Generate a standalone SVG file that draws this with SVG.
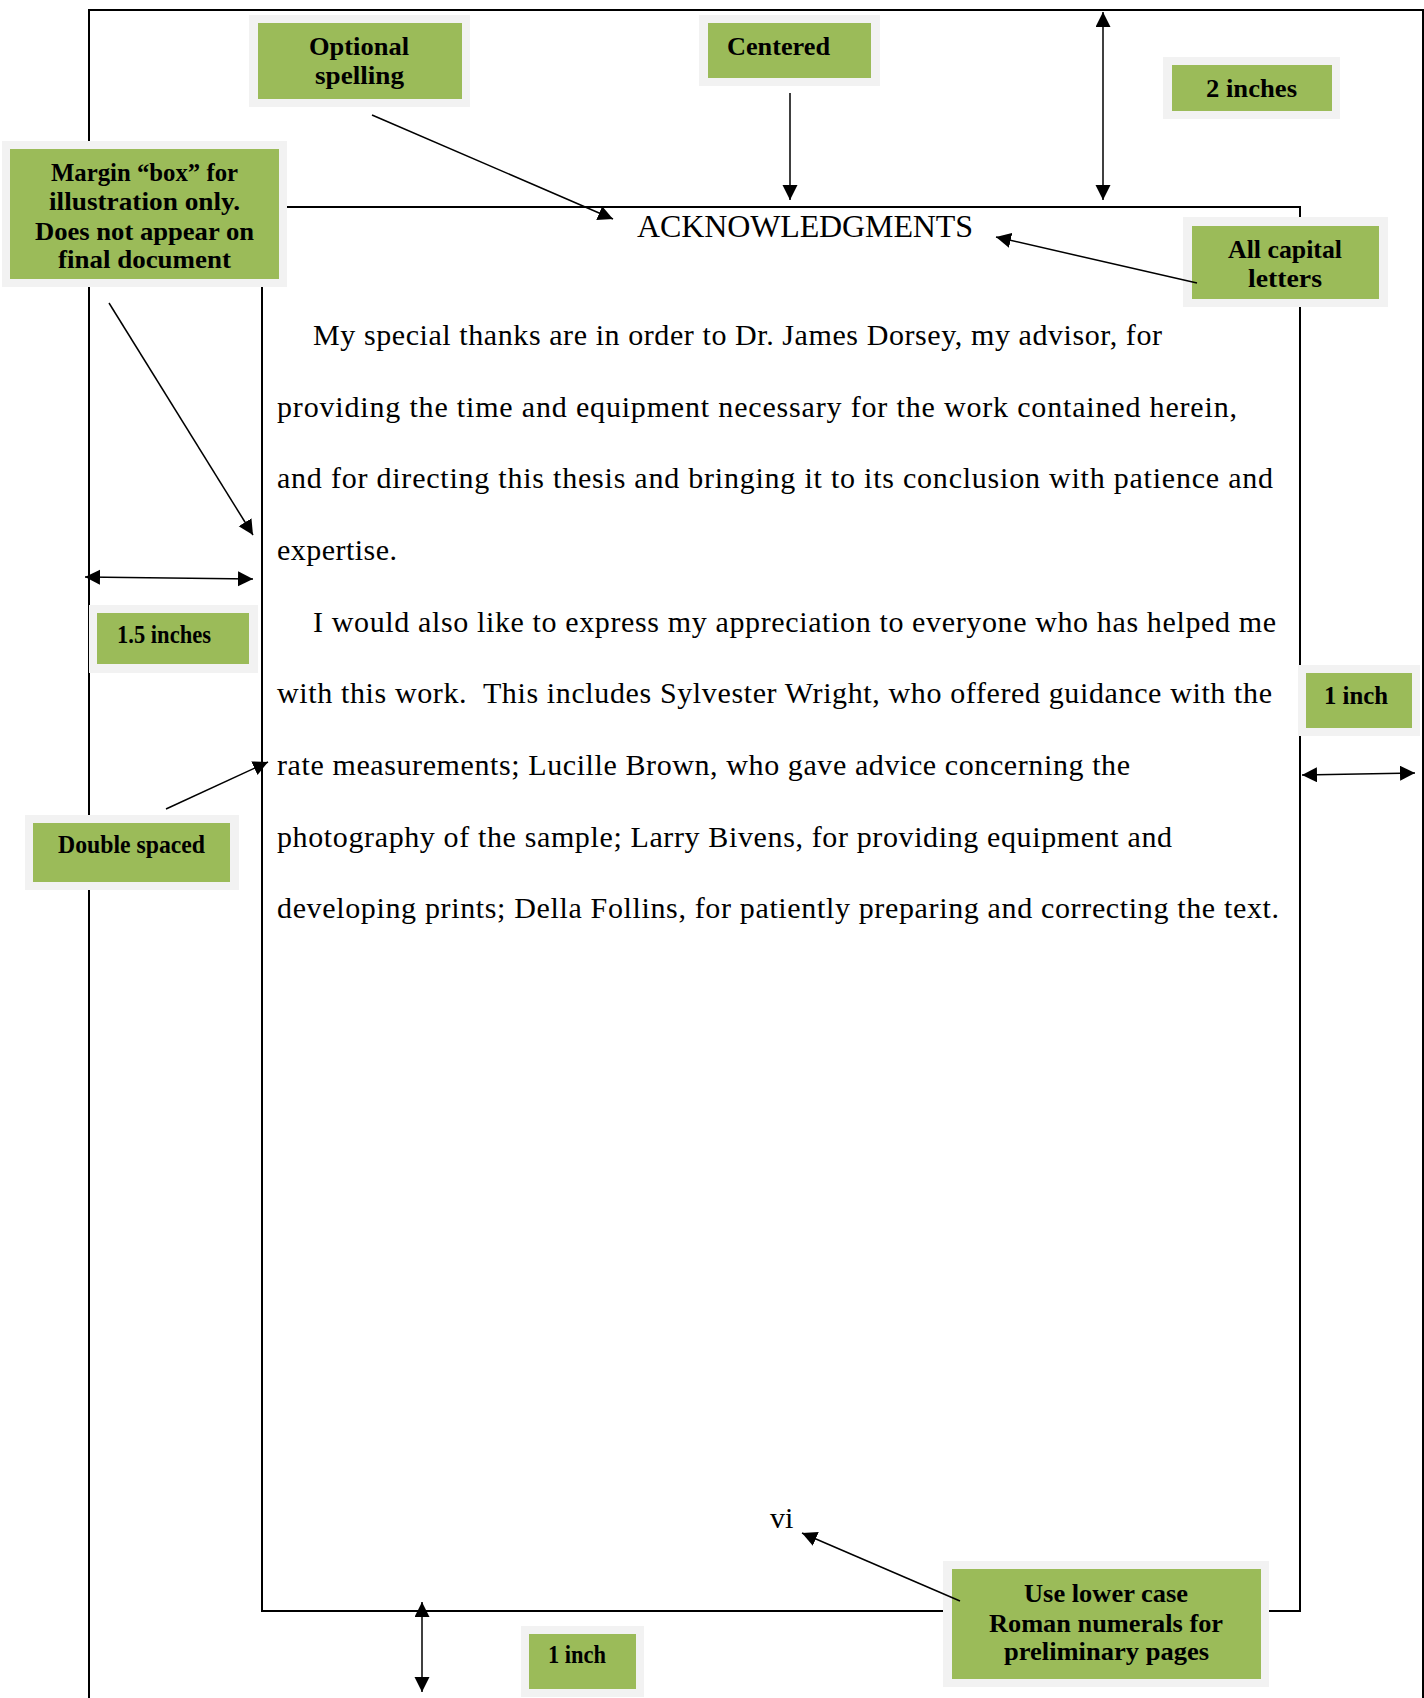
<svg xmlns="http://www.w3.org/2000/svg" width="1424" height="1698" viewBox="0 0 1424 1698">
<style>
.frame{fill:none;stroke:#000;stroke-width:2}
.pad{fill:#f2f2f2}
.box{fill:#9bbb59}
.lbl{font-family:"Liberation Serif",serif;font-weight:bold;font-size:26px;fill:#000}
.body{font-family:"Liberation Serif",serif;font-size:30px;fill:#000}
.title{font-family:"Liberation Serif",serif;font-size:32px;fill:#000}
#connectors line{stroke:#000;stroke-width:1.5;fill:none}
.one{marker-end:url(#ah)}
.two{marker-start:url(#ah);marker-end:url(#ah)}
</style>
<defs>
<marker id="ah" markerUnits="userSpaceOnUse" markerWidth="16" markerHeight="16" refX="15" refY="7.5" orient="auto-start-reverse">
<path d="M0,0 L15,7.5 L0,15 Z" fill="#000"/>
</marker>
</defs>
<rect width="1424" height="1698" fill="#fff"/>
<g id="page-frame">
<rect class="frame" x="89" y="10" width="1334" height="1700"/>
<rect class="frame" x="262" y="207" width="1038" height="1404"/>
</g>
<g id="page-text">
<text class="title" x="637" y="237" textLength="336">ACKNOWLEDGMENTS</text>
<text class="body" x="313" y="345" textLength="849">My special thanks are in order to Dr. James Dorsey, my advisor, for</text>
<text class="body" x="277" y="417" textLength="960">providing the time and equipment necessary for the work contained herein,</text>
<text class="body" x="277" y="488" textLength="996">and for directing this thesis and bringing it to its conclusion with patience and</text>
<text class="body" x="277" y="560" textLength="120">expertise.</text>
<text class="body" x="313" y="632" textLength="963">I would also like to express my appreciation to everyone who has helped me</text>
<text class="body" x="277" y="703" textLength="995" xml:space="preserve" style="white-space:pre">with this work.  This includes Sylvester Wright, who offered guidance with the</text>
<text class="body" x="277" y="775" textLength="853">rate measurements; Lucille Brown, who gave advice concerning the</text>
<text class="body" x="277" y="847" textLength="895">photography of the sample; Larry Bivens, for providing equipment and</text>
<text class="body" x="277" y="918" textLength="1002">developing prints; Della Follins, for patiently preparing and correcting the text.</text>
<text class="body" x="770" y="1528">vi</text>
</g>
<g id="node-optional">
<rect class="pad" x="249" y="15" width="221" height="92"/>
<rect class="box" x="258" y="23" width="204" height="76"/>
<text class="lbl" x="309" y="55" textLength="100" lengthAdjust="spacingAndGlyphs">Optional</text>
<text class="lbl" x="315" y="84" textLength="89" lengthAdjust="spacingAndGlyphs">spelling</text>
</g>
<g id="node-centered">
<rect class="pad" x="699" y="15" width="181" height="71"/>
<rect class="box" x="708" y="23" width="163" height="55"/>
<text class="lbl" x="727" y="55" textLength="103" lengthAdjust="spacingAndGlyphs">Centered</text>
</g>
<g id="node-two-inches">
<rect class="pad" x="1163" y="57" width="177" height="62"/>
<rect class="box" x="1172" y="65" width="160" height="46"/>
<text class="lbl" x="1206" y="97" textLength="91" lengthAdjust="spacingAndGlyphs">2 inches</text>
</g>
<g id="node-margin">
<rect class="pad" x="2" y="141" width="285" height="146"/>
<rect class="box" x="10" y="149" width="269" height="130"/>
<text class="lbl" x="51" y="181" textLength="187" lengthAdjust="spacingAndGlyphs">Margin “box” for</text>
<text class="lbl" x="49" y="210" textLength="191" lengthAdjust="spacingAndGlyphs">illustration only.</text>
<text class="lbl" x="35" y="240" textLength="219" lengthAdjust="spacingAndGlyphs">Does not appear on</text>
<text class="lbl" x="58" y="268" textLength="173" lengthAdjust="spacingAndGlyphs">final document</text>
</g>
<g id="node-all-caps">
<rect class="pad" x="1183" y="217" width="205" height="90"/>
<rect class="box" x="1192" y="226" width="187" height="73"/>
<text class="lbl" x="1228" y="258" textLength="114" lengthAdjust="spacingAndGlyphs">All capital</text>
<text class="lbl" x="1248" y="287" textLength="74" lengthAdjust="spacingAndGlyphs">letters</text>
</g>
<g id="node-one-five">
<rect class="pad" x="89" y="605" width="169" height="68"/>
<rect class="box" x="97" y="613" width="152" height="51"/>
<text class="lbl" x="117" y="643" textLength="94" lengthAdjust="spacingAndGlyphs">1.5 inches</text>
</g>
<g id="node-double">
<rect class="pad" x="25" y="815" width="214" height="75"/>
<rect class="box" x="33" y="823" width="197" height="59"/>
<text class="lbl" x="58" y="853" textLength="147" lengthAdjust="spacingAndGlyphs">Double spaced</text>
</g>
<g id="node-one-inch-right">
<rect class="pad" x="1298" y="665" width="122" height="71"/>
<rect class="box" x="1306" y="673" width="106" height="55"/>
<text class="lbl" x="1324" y="704" textLength="64" lengthAdjust="spacingAndGlyphs">1 inch</text>
</g>
<g id="node-one-inch-bottom">
<rect class="pad" x="521" y="1626" width="123" height="71"/>
<rect class="box" x="529" y="1634" width="107" height="55"/>
<text class="lbl" x="548" y="1663" textLength="58" lengthAdjust="spacingAndGlyphs">1 inch</text>
</g>
<g id="node-roman">
<rect class="pad" x="943" y="1561" width="326" height="126"/>
<rect class="box" x="952" y="1569" width="309" height="110"/>
<text class="lbl" x="1024" y="1602" textLength="164" lengthAdjust="spacingAndGlyphs">Use lower case</text>
<text class="lbl" x="989" y="1632" textLength="234" lengthAdjust="spacingAndGlyphs">Roman numerals for</text>
<text class="lbl" x="1004" y="1660" textLength="205" lengthAdjust="spacingAndGlyphs">preliminary pages</text>
</g>
<g id="connectors">
<line class="one" x1="372" y1="115" x2="613" y2="219"/>
<line class="one" x1="790" y1="93" x2="790" y2="200"/>
<line class="two" x1="1103" y1="12" x2="1103" y2="200"/>
<line class="one" x1="1197" y1="283" x2="996" y2="237"/>
<line class="one" x1="109" y1="303" x2="253" y2="535"/>
<line class="two" x1="85" y1="577" x2="253" y2="579"/>
<line class="one" x1="166" y1="809" x2="268" y2="762"/>
<line class="two" x1="1302" y1="775" x2="1415" y2="773"/>
<line class="two" x1="422" y1="1602" x2="422" y2="1692"/>
<line class="one" x1="960" y1="1601" x2="802" y2="1533"/>
</g>
</svg>
